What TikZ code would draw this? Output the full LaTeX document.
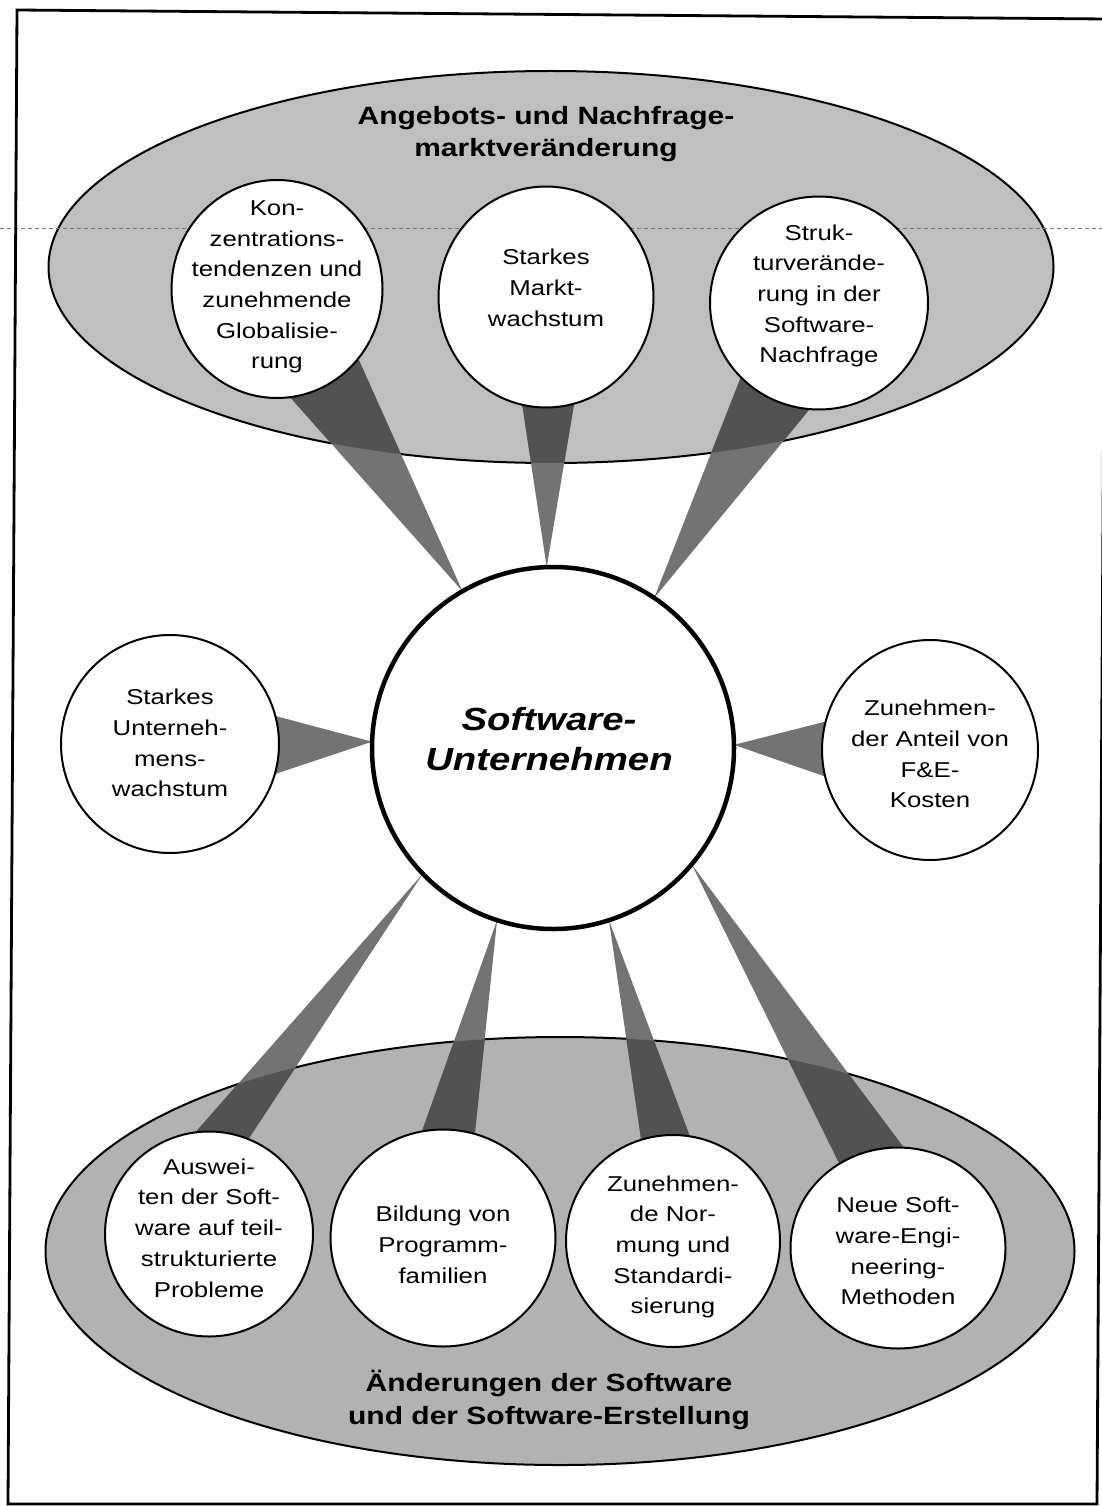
\documentclass[tikz,border=0pt]{standalone}
\usepackage{fontspec}
\setmainfont{Liberation Sans}[FakeStretch=1.2]
\usetikzlibrary{shapes.geometric,calc}
\pgfdeclarelayer{back}
\pgfdeclarelayer{mid}
\pgfsetlayers{back,mid,main}
\begin{document}
\begin{tikzpicture}[x=1pt,y=-1pt,
  region/.style={ellipse,draw,line width=2pt,inner sep=0pt,outer sep=0pt},
  sat/.style={ellipse,draw,line width=2pt,fill=white,inner sep=0pt,outer sep=0pt},
  sattext/.style={align=center,inner sep=0pt,font=\fontsize{21.5}{30.7}\selectfont},
  titletext/.style={align=center,inner sep=0pt,font=\bfseries\fontsize{25}{32.5}\selectfont},
  core/.style={circle,draw,line width=4.5pt,fill=white,inner sep=0pt,outer sep=0pt,minimum size=362pt},
  coretext/.style={align=center,inner sep=0pt,font=\bfseries\itshape\fontsize{32}{40}\selectfont},
  wedgeout/.style={fill=black!55},
  wedgein/.style={fill=black!68},
  frame/.style={line width=2.8pt},
  scanline/.style={black!55,line width=0.8pt,dash pattern=on 4pt off 3pt}
]
\useasboundingbox (0,0) rectangle (1102,1506);

% regions
\begin{pgfonlayer}{back}
\fill[white] (0,0) rectangle (1102,1506);
\node[region,fill=black!25,minimum width=1005pt,minimum height=392pt] (top) at (551,267) {};
\node[region,fill=black!30,minimum width=1029pt,minimum height=428pt] (bottom) at (560,1251) {};
\draw[scanline] (0,228) -- (1102,228);
\end{pgfonlayer}

\draw[frame] (17,10) -- (1106,19) -- (1097,1504) -- (8,1504) -- cycle;

% satellites
\node[sat,minimum width=211pt,minimum height=218pt] (K) at (277,289) {};
\node[sat,minimum width=215pt,minimum height=221pt] (M) at (546,297) {};
\node[sat,minimum width=218pt,minimum height=213pt] (S) at (819,303) {};
\node[sat,minimum width=218pt,minimum height=218pt] (L) at (170,744) {};
\node[sat,minimum width=216pt,minimum height=220pt] (R) at (930,750) {};
\node[sat,minimum width=208pt,minimum height=205pt] (A) at (209,1234) {};
\node[sat,minimum width=225pt,minimum height=217pt] (B) at (443,1238) {};
\node[sat,minimum width=214pt,minimum height=212pt] (Z) at (673,1241) {};
\node[sat,minimum width=215pt,minimum height=201pt] (N) at (898,1248) {};
\node[core] (C) at (553,748) {};

% texts
\node[titletext] (toptitle) at (546,134) {Angebots- und Nachfrage-\\marktveränderung};
\node[titletext] (bottomtitle) at (549,1400) {Änderungen der Software\\und der Software-Erstellung};
\node[coretext] (Ct) at (549,739) {Software-\\Unternehmen};
\node[sattext] (Kt) at (277,287) {Kon-\\zentrations-\\tendenzen und\\zunehmende\\Globalisie-\\rung};
\node[sattext] (Mt) at (546,288) {Starkes\\Markt-\\wachstum};
\node[sattext] (St) at (819,296) {Struk-\\turverände-\\rung in der\\Software-\\Nachfrage};
\node[sattext] (Lt) at (170,743) {Starkes\\Unterneh-\\mens-\\wachstum};
\node[sattext] (Rt) at (930,754) {Zunehmen-\\der Anteil von\\F\&E-\\Kosten};
\node[sattext] (At) at (209,1228) {Auswei-\\ten der Soft-\\ware auf teil-\\strukturierte\\Probleme};
\node[sattext] (Bt) at (443,1245) {Bildung von\\Programm-\\familien};
\node[sattext] (Zt) at (673,1247) {Zunehmen-\\de Nor-\\mung und\\Standardi-\\sierung};
\node[sattext] (Nt) at (898,1251) {Neue Soft-\\ware-Engi-\\neering-\\Methoden};

% wedges
\def\wedges#1{%
  \fill[#1] (C.120) -- ($(K.center)+(-83,0)$) -- ($(K.center)+(50,0)$) -- cycle;
  \fill[#1] (C.92) -- ($(M.center)+(-40,0)$) -- ($(M.center)+(46,0)$) -- cycle;
  \fill[#1] (C.56) -- ($(S.center)+(-49,0)$) -- ($(S.center)+(78,0)$) -- cycle;
  \fill[#1] (C.178) -- ($(L.center)+(0,-56)$) -- ($(L.center)+(0,65)$) -- cycle;
  \fill[#1] (C.1) -- ($(R.center)+(0,-55)$) -- ($(R.center)+(0,63)$) -- cycle;
  \fill[#1] (C.224) -- ($(A.center)+(-103,0)$) -- ($(A.center)+(-23,0)$) -- cycle;
  \fill[#1] (C.252) -- ($(B.center)+(-59,0)$) -- ($(B.center)+(21,0)$) -- cycle;
  \fill[#1] (C.288) -- ($(Z.center)+(-17,0)$) -- ($(Z.center)+(56,0)$) -- cycle;
  \fill[#1] (C.320) -- ($(N.center)+(-17,0)$) -- ($(N.center)+(81,0)$) -- cycle;
}
\begin{pgfonlayer}{mid}
\wedges{wedgeout}
\begin{scope}
\clip (551,267) ellipse [x radius=502.5, y radius=196];
\wedges{wedgein}
\end{scope}
\begin{scope}
\clip (560,1251) ellipse [x radius=514.5, y radius=214];
\wedges{wedgein}
\end{scope}
\end{pgfonlayer}
\end{tikzpicture}
\end{document}
